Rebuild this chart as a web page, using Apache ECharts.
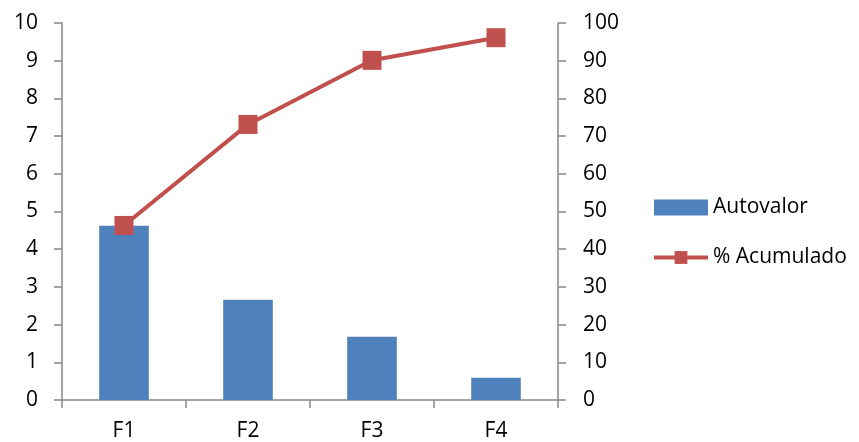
<!DOCTYPE html>
<html>
<head>
<meta charset="utf-8">
<script src="https://cdn.jsdelivr.net/npm/echarts@6/dist/echarts.min.js"></script>
<style>
html, body { margin: 0; padding: 0; background: #fff; }
#chart { width: 859px; height: 442px; }
</style>
</head>
<body>
<div id="chart"></div>
<script>
var categories = ['F1', 'F2', 'F3', 'F4'];
var autovalor = [4.62, 2.66, 1.68, 0.59];
var acumulado = [46.3, 73.1, 90.1, 96.1];

var fontName = 'Open Sans';
var axisColor = '#868686';

var myChart = echarts.init(document.getElementById('chart'));
var option = {
    animation: false,
    textStyle: { fontFamily: fontName },
    grid: { left: 62, right: 301, top: 23, bottom: 42, containLabel: false },
    legend: {
        orient: 'vertical',
        left: 652,
        top: 197,
        padding: 0,
        itemWidth: 54,
        itemHeight: 16,
        itemGap: 29,
        textStyle: { fontFamily: fontName, fontSize: 21, color: '#000' },
        data: [
            { name: 'Autovalor', icon: 'rect' },
            { name: '% Acumulado', lineStyle: { width: 4 } }
        ]
    },
    xAxis: {
        type: 'category',
        data: categories,
        axisLine: { lineStyle: { color: axisColor, width: 1.5 } },
        axisTick: { show: true, length: 8, lineStyle: { color: axisColor, width: 1.5 } },
        axisLabel: { color: '#000', fontSize: 21, margin: 21, fontFamily: fontName }
    },
    yAxis: [{
        type: 'value',
        min: 0, max: 10, interval: 1,
        axisLine: { show: true, lineStyle: { color: axisColor, width: 1.5 } },
        axisTick: { show: true, length: 8, lineStyle: { color: axisColor, width: 1.5 } },
        splitLine: { show: false },
        axisLabel: { color: '#000', fontSize: 21, margin: 24, fontFamily: fontName }
    }, {
        type: 'value',
        min: 0, max: 100, interval: 10,
        position: 'right',
        axisLine: { show: true, lineStyle: { color: axisColor, width: 1.5 } },
        axisTick: { show: true, length: 8, lineStyle: { color: axisColor, width: 1.5 } },
        splitLine: { show: false },
        axisLabel: { color: '#000', fontSize: 21, margin: 25, fontFamily: fontName }
    }],
    series: [{
        name: 'Autovalor',
        type: 'bar',
        data: autovalor,
        barWidth: '40%',
        itemStyle: { color: '#4F81BD' }
    }, {
        name: '% Acumulado',
        type: 'line',
        yAxisIndex: 1,
        data: acumulado,
        symbol: 'rect',
        symbolSize: 19,
        lineStyle: { color: '#C0504D', width: 4 },
        itemStyle: { color: '#C0504D' }
    }]
};
myChart.setOption(option);
</script>
</body>
</html>
